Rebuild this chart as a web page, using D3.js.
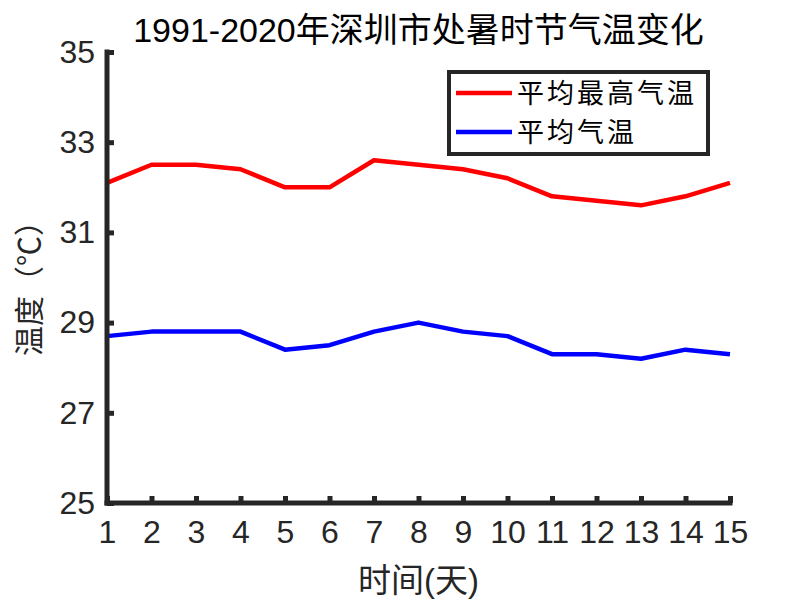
<html>
<head>
<meta charset="utf-8">
<script src="https://d3js.org/d3.v7.min.js"></script>
<style>
  body { margin: 0; background: #fff; }
  text { font-family: "Liberation Sans", Arial, "Noto Sans CJK SC", sans-serif; }
</style>
</head>
<body>
<div id="chart"></div>
<script>
var days = [1, 2, 3, 4, 5, 6, 7, 8, 9, 10, 11, 12, 13, 14, 15];
var maxTemp = [32.1, 32.5, 32.5, 32.4, 32.0, 32.0, 32.6, 32.5, 32.4, 32.2, 31.8, 31.7, 31.6, 31.8, 32.1];
var avgTemp = [28.7, 28.8, 28.8, 28.8, 28.4, 28.5, 28.8, 29.0, 28.8, 28.7, 28.3, 28.3, 28.2, 28.4, 28.3];
var yTicks = [25, 27, 29, 31, 33, 35];
var seriesNames = ["平均最高气温", "平均气温"];
var seriesColors = ["#ff0000", "#0000ff"];

var W = 805, H = 604;
var margin = {top: 52, right: 75, bottom: 101, left: 107};
var width = W - margin.left - margin.right;
var height = H - margin.top - margin.bottom;

var svg = d3.select('#chart').append('svg')
    .attr('width', W)
    .attr('height', H);

var g = svg.append('g')
    .attr('transform', 'translate(' + margin.left + ',' + margin.top + ')');

// scales
var xScale = d3.scaleLinear().domain([1, 15]).range([0, width]);
var yScale = d3.scaleLinear().domain([25, 35]).range([height, 0]);

// lines
var line = d3.line()
    .x(function(d, i) { return xScale(days[i]); })
    .y(function(d) { return yScale(d); });

[maxTemp, avgTemp].forEach(function(s, k) {
    g.append('path')
        .datum(s)
        .attr('d', line)
        .style('fill', 'none')
        .style('stroke', seriesColors[k])
        .style('stroke-width', 4.5)
        .style('stroke-linejoin', 'round');
});

// y axis
var yAxis = d3.axisLeft(yScale)
    .tickValues(yTicks)
    .tickSize(-7)
    .tickPadding(16);
var yGuide = g.append('g').call(yAxis);
yGuide.select('.domain').remove();
yGuide.append('line')
    .attr('x1', 0).attr('x2', 0)
    .attr('y1', -2.5).attr('y2', height + 2.5)
    .style('stroke', '#262626').style('stroke-width', 5);
yGuide.selectAll('.tick line').style('stroke', '#262626').style('stroke-width', 5);
yGuide.selectAll('text')
    .style('font-size', '32px')
    .style('fill', '#262626')
    .attr('dx', 4);

// x axis
var xAxis = d3.axisBottom(xScale)
    .tickValues(days)
    .tickSize(-7)
    .tickPadding(17)
    .tickFormat(d3.format('d'));
var xGuide = g.append('g')
    .attr('transform', 'translate(0,' + height + ')')
    .call(xAxis);
xGuide.select('.domain').remove();
xGuide.append('line')
    .attr('x1', -2.5).attr('x2', width + 2.5)
    .attr('y1', 0).attr('y2', 0)
    .style('stroke', '#262626').style('stroke-width', 5);
xGuide.selectAll('.tick line').style('stroke', '#262626').style('stroke-width', 5);
xGuide.selectAll('text')
    .style('font-size', '32px')
    .style('fill', '#262626');

// title
svg.append('text')
    .attr('x', margin.left + width / 2)
    .attr('y', 42)
    .attr('text-anchor', 'middle')
    .style('font-size', '34px')
    .style('fill', '#000')
    .text('1991-2020年深圳市处暑时节气温变化');

// axis labels
svg.append('text')
    .attr('x', margin.left + width / 2)
    .attr('y', 592)
    .attr('text-anchor', 'middle')
    .style('font-size', '33px')
    .style('fill', '#262626')
    .text('时间(天)');

svg.append('text')
    .attr('transform', 'translate(40,' + 281 + ') rotate(-90)')
    .attr('text-anchor', 'middle')
    .style('font-family', '"Noto Sans CJK SC", sans-serif')
    .style('font-size', '30px')
    .style('fill', '#262626')
    .text('温度（℃）');

// legend
var legend = svg.append('g').attr('transform', 'translate(449,72)');
legend.append('rect')
    .attr('width', 259).attr('height', 82)
    .style('fill', '#fff')
    .style('stroke', '#262626')
    .style('stroke-width', 4);
seriesNames.forEach(function(name, k) {
    var yy = 21 + k * 39;
    legend.append('line')
        .attr('x1', 7).attr('x2', 63)
        .attr('y1', yy).attr('y2', yy)
        .style('stroke', seriesColors[k])
        .style('stroke-width', 4.5);
    legend.append('text')
        .attr('x', 68).attr('y', yy + 10)
        .style('font-family', '"Noto Sans CJK SC", sans-serif')
        .style('font-size', '27px')
        .style('letter-spacing', '3px')
        .style('fill', '#000')
        .text(name);
});
</script>
</body>
</html>
